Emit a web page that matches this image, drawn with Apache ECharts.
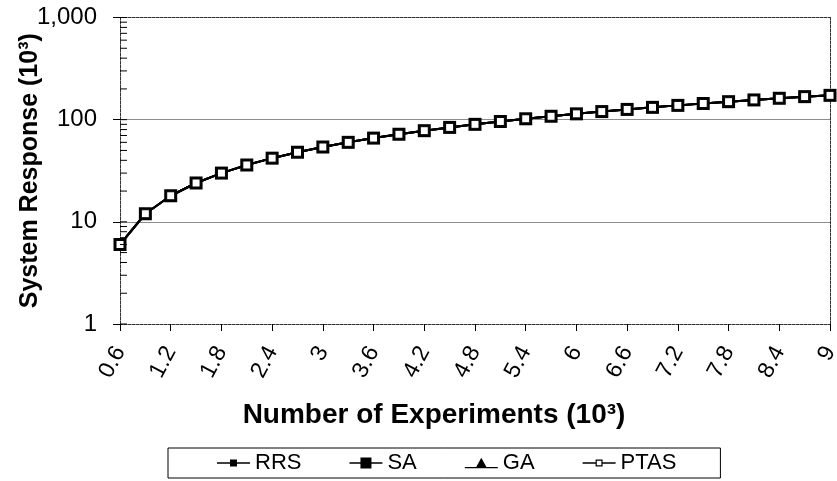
<!DOCTYPE html>
<html><head><meta charset="utf-8">
<script src="https://cdn.jsdelivr.net/npm/echarts@6/dist/echarts.min.js"></script>
<style>html,body{margin:0;padding:0;background:#fff}#c{width:837px;height:481px}</style>
</head><body><div id="c"></div>
<script>
// Data
const experiments = [0.6,0.9,1.2,1.5,1.8,2.1,2.4,2.7,3.0,3.3,3.6,3.9,4.2,4.5,4.8,5.1,5.4,5.7,6.0,6.3,6.6,6.9,7.2,7.5,7.8,8.1,8.4,8.7,9.0];
const rrs  = [6,12,18,24,30,36,42,48,54,60,66,72,78,84,90,96,102,108,114,120,126,132,138,144,150,156,162,168,173];
const sa   = [6,12,18,24,30,36,42,48,54,60,66,72,78,84,90,96,102,108,114,120,126,132,138,144,150,156,162,168,173];
const ga   = [6,12,18,24,30,36,42,48,54,60,66,72,78,84,90,96,102,108,114,120,126,132,138,144,150,156,162,168,173];
const ptas = [6,12,18,24,30,36,42,48,54,60,66,72,78,84,90,96,102,108,114,120,126,132,138,144,150,156,162,168,173];
const seriesNames = ['RRS','SA','GA','PTAS'];
const yTicks = [1,10,100,1000];
const yMinorTicks = [2,3,4,5,6,7,8,9,20,30,40,50,60,70,80,90,200,300,400,500,600,700,800,900];
const xMin = 0.6, xMax = 9, xStep = 0.6;
const yMin = 1, yMax = 1000;

const font = 'Arial, "Liberation Sans", sans-serif';
const dashed = {color:'#333', width:1, type:[3,1]};

const pair = (arr) => experiments.map((x,i)=>[x, arr[i]]);
const baseLine = {type:'line', lineStyle:{color:'#000', width:2}, emphasis:{disabled:true}, animation:false};

const option = {
  animation:false,
  backgroundColor:'#fff',
  grid:{left:120, right:7, top:17.5, bottom:157, containLabel:false, outerBoundsMode:'none'},
  xAxis:[{
    type:'value', min:xMin, max:xMax, interval:xStep,
    axisLine:{show:true, lineStyle:dashed},
    axisTick:{show:true, length:7, lineStyle:{color:'#000'}},
    splitLine:{show:false},
    axisLabel:{rotate:62, margin:24, fontSize:23, color:'#000', fontFamily:font},
    name:'Number of Experiments (10³)', nameLocation:'middle', nameGap:77, nameMoveOverlap:false,
    nameTextStyle:{fontSize:28, fontWeight:'bold', color:'#000', fontFamily:font, padding:[0,82,0,0]}
  },{
    type:'value', min:xMin, max:xMax, position:'top',
    axisLine:{show:true, lineStyle:dashed}, axisTick:{show:false}, axisLabel:{show:false}, splitLine:{show:false}
  }],
  yAxis:[{
    type:'log', logBase:10, min:yMin, max:yMax,
    axisLine:{show:true, lineStyle:dashed},
    axisTick:{show:true, length:7, lineStyle:{color:'#000'}},
    splitLine:{show:true, lineStyle:{color:['transparent','#8c8c8c','#8c8c8c','transparent'], width:1}},
    axisLabel:{margin:23, fontSize:24, color:'#000', fontFamily:font,
      formatter:(v)=> yTicks.indexOf(v) >= 0 ? v.toLocaleString('en-US') : ''},
    name:'System Response (10³)', nameLocation:'middle', nameGap:77, nameMoveOverlap:false,
    nameTextStyle:{fontSize:25, fontWeight:'bold', color:'#000', fontFamily:font}
  },{
    type:'log', logBase:10, min:yMin, max:yMax, position:'right',
    axisLine:{show:true, lineStyle:dashed}, axisTick:{show:false}, axisLabel:{show:false}, splitLine:{show:false}
  }],
  legend:{
    data:[
      {name:'RRS', icon:'path://M0,5.3H33V6.7H0Z M13,2.5H20V9.5H13Z'},
      {name:'SA', icon:'path://M0,5.3H33V6.7H0Z M11,0.5H22V11.5H11Z'},
      {name:'GA', icon:'path://M0,10.3H33V11.7H0Z M16.5,1L22,11L11,11Z'},
      {name:'PTAS', icon:'path://M0,5.3H13V6.7H0Z M20,5.3H33V6.7H20Z M13,2.5H20V9.5H13Z M14.2,3.7V8.3H18.8V3.7Z'}
    ],
    left:168, top:448, orient:'horizontal',
    padding:[4,44,4,49], itemGap:48, itemWidth:33, itemHeight:12,
    borderColor:'#000', borderWidth:1,
    itemStyle:{color:'#000', borderWidth:0},
    textStyle:{fontSize:22, color:'#000', fontFamily:font},
    selectedMode:false
  },
  series:[
    Object.assign({}, baseLine, {name:'RRS', data:pair(rrs), symbol:'rect', symbolSize:7, itemStyle:{color:'#000'}}),
    Object.assign({}, baseLine, {name:'SA', data:pair(sa), symbol:'rect', symbolSize:13, itemStyle:{color:'#000'}}),
    Object.assign({}, baseLine, {name:'GA', data:pair(ga), symbol:'triangle', symbolSize:10, itemStyle:{color:'#000'}}),
    Object.assign({}, baseLine, {name:'PTAS', data:pair(ptas), symbol:'rect', symbolSize:8, itemStyle:{color:'#fff', borderColor:'#000', borderWidth:1}}),
    {
      type:'custom', name:'minorTicks', silent:true, clip:false, z:5,
      data: yMinorTicks.concat(yTicks).map(v=>[xMin, v]),
      renderItem:(params, api)=>{
        const p = api.coord([api.value(0), api.value(1)]);
        return {type:'line', shape:{x1:p[0], y1:p[1], x2:p[0]+7, y2:p[1]}, style:{stroke:'#000', lineWidth:1}};
      }
    }
  ]
};
const chart = echarts.init(document.getElementById('c'), null, {renderer:'canvas'});
chart.setOption(option);
</script></body></html>
